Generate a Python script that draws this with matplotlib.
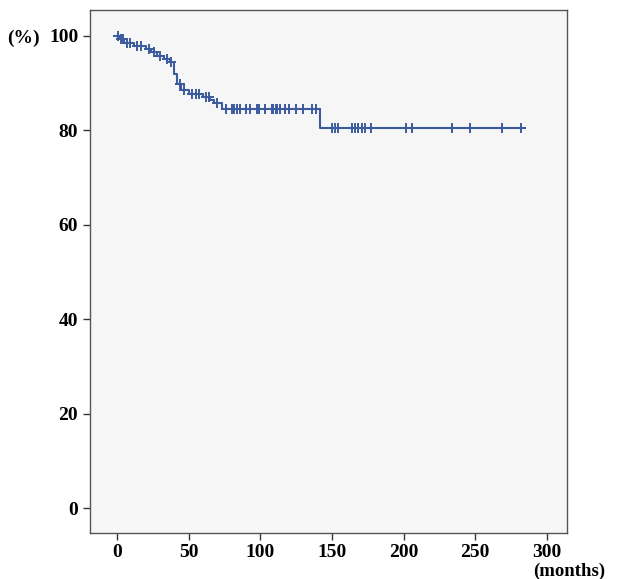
import numpy as np
import matplotlib.pyplot as plt

# Kaplan-Meier curve
event_times = [0, 2, 5, 12, 20, 24, 28, 33, 37, 40, 42, 45, 50, 60, 65, 68, 73, 142]
surv_after = [100, 99.3, 98.6, 97.9, 97.2, 96.5, 95.8, 95.1, 94.4, 92.0, 89.9,
              88.5, 87.8, 87.1, 86.4, 85.7, 84.6, 80.4]
last_followup = 282

censor_times = [1, 3, 4, 7, 9, 14, 17, 22, 26, 30, 35, 38, 44, 47, 52, 55, 57, 62,
                64, 70, 76, 80, 82, 84, 86, 90, 93, 98, 99, 103, 108, 109, 111, 112,
                114, 117, 120, 125, 130, 136, 139, 150, 152, 154, 164, 166, 168, 171,
                173, 177, 202, 206, 234, 246, 269, 282]

xticks = [0, 50, 100, 150, 200, 250, 300]
yticks = [0, 20, 40, 60, 80, 100]

plt.rcParams['font.family'] = ['Liberation Serif', 'DejaVu Serif']

fig = plt.figure(figsize=(6.21, 5.79), dpi=100)
ax = fig.add_axes([0.145, 0.0794, 0.768, 0.9033])
ax.set_facecolor('#f6f6f6')

line_color = '#3b5b9c'
x = list(event_times) + [last_followup]
y = list(surv_after) + [surv_after[-1]]
ax.step(x, y, where='post', color=line_color, lw=1.5)

idx = np.searchsorted(event_times, censor_times, side='right') - 1
cy = np.array(surv_after)[idx]
ax.plot(censor_times, cy, linestyle='none', marker='+', color=line_color,
        markersize=7, markeredgewidth=1.4)

ax.set_xlim(-18.8, 314)
ax.set_ylim(-5.3, 105.5)
ax.set_xticks(xticks)
ax.set_yticks(yticks)
ax.tick_params(labelsize=14, length=5, width=1, color='#333333')
ax.tick_params(axis='x', pad=3)
for lab in ax.get_xticklabels() + ax.get_yticklabels():
    lab.set_fontweight('bold')
for s in ax.spines.values():
    s.set_color('#555555')
    s.set_linewidth(1)

fig.text(0.012, 1 - 38 / 579, '(%)', fontsize=14, fontweight='bold',
         ha='left', va='center')
fig.text(0.974, 1 - 571 / 579, '(months)', fontsize=13.5, fontweight='bold',
         ha='right', va='center')

fig.savefig('out.png', dpi=100)
